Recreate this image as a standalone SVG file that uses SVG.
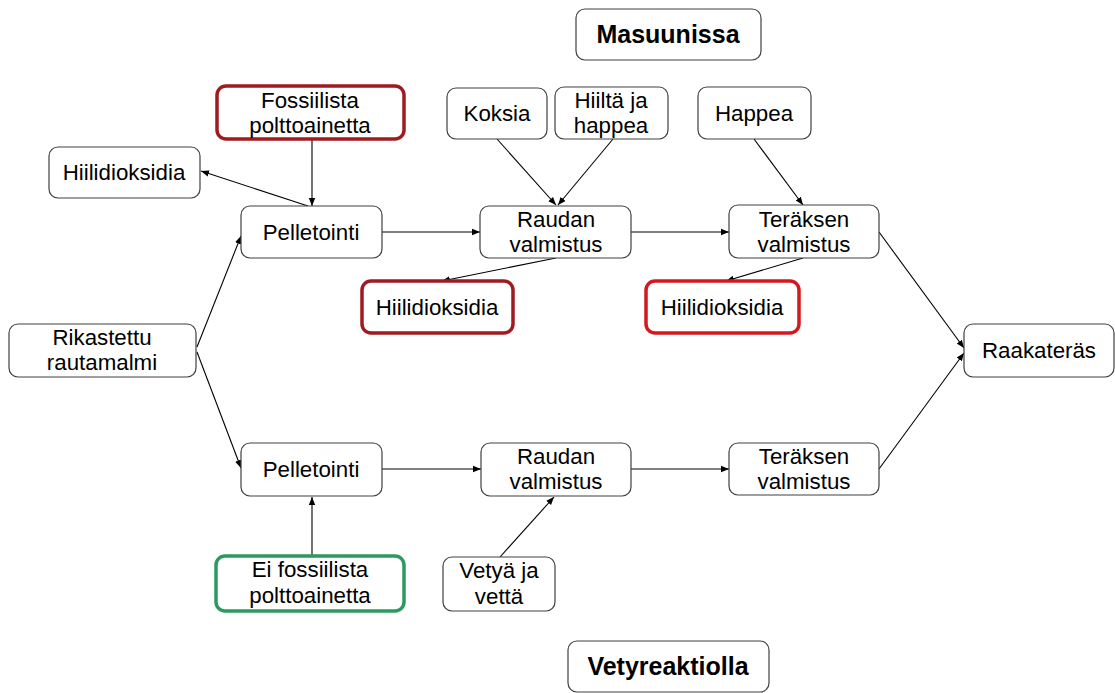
<svg xmlns="http://www.w3.org/2000/svg" width="1115" height="693" viewBox="0 0 1115 693">
<defs>
<marker id="ah" viewBox="0 0 10 10" refX="10" refY="5" markerWidth="8" markerHeight="8" markerUnits="userSpaceOnUse" orient="auto">
<path d="M0,1 L10,5 L0,9 Z" fill="#000"/>
</marker>
<style>
.b{fill:#fff;stroke:#404040;stroke-width:1.2}
.dr{fill:#fff;stroke:#a01b1f;stroke-width:3.5}
.br{fill:#fff;stroke:#d3181f;stroke-width:3.5}
.gr{fill:#fff;stroke:#2a9a60;stroke-width:3.5}
text{font-family:"Liberation Sans",Arial,sans-serif;font-size:22.3px;fill:#000;text-anchor:middle}
.t{font-weight:bold;font-size:25px}
.c line{stroke:#000;stroke-width:1.1;marker-end:url(#ah)}
</style>
</defs>
<rect width="1115" height="693" fill="#fff"/>
<g class="c">
<line x1="312" y1="139" x2="312" y2="206"/>
<line x1="308" y1="206" x2="201" y2="171"/>
<line x1="197" y1="347" x2="241" y2="236"/>
<line x1="197" y1="352" x2="241" y2="468"/>
<line x1="382" y1="232" x2="480" y2="232"/>
<line x1="631" y1="232" x2="729" y2="232"/>
<line x1="497" y1="139" x2="556" y2="205"/>
<line x1="613" y1="139" x2="558" y2="205"/>
<line x1="754" y1="139" x2="803" y2="205"/>
<line x1="556" y1="258" x2="442" y2="281"/>
<line x1="803" y1="258" x2="726" y2="281"/>
<line x1="879" y1="232" x2="964" y2="348"/>
<line x1="879" y1="469" x2="964" y2="353"/>
<line x1="382" y1="469" x2="481" y2="469"/>
<line x1="631" y1="469" x2="729" y2="469"/>
<line x1="312" y1="556" x2="312" y2="497"/>
<line x1="500" y1="557" x2="554" y2="497"/>
</g>
<g id="masuunissa"><rect class="b" x="576" y="9" width="185" height="51" rx="9"/><text class="t" x="668" y="43">Masuunissa</text></g>
<g id="vetyreaktiolla"><rect class="b" x="568" y="641" width="201" height="51" rx="9"/><text class="t" x="668" y="675">Vetyreaktiolla</text></g>
<g id="fossiilista"><rect class="dr" x="217" y="86" width="187" height="53" rx="9"/><text x="310" y="108">Fossiilista</text><text x="310" y="133">polttoainetta</text></g>
<g id="hiilidioksidia1"><rect class="b" x="49" y="147" width="151" height="51" rx="9"/><text x="124" y="180">Hiilidioksidia</text></g>
<g id="pelletointi1"><rect class="b" x="241" y="206" width="141" height="52" rx="9"/><text x="311" y="240">Pelletointi</text></g>
<g id="rikastettu"><rect class="b" x="9" y="324" width="187" height="53" rx="9"/><text x="102" y="345">Rikastettu</text><text x="102" y="370">rautamalmi</text></g>
<g id="koksia"><rect class="b" x="447" y="88" width="100" height="51" rx="9"/><text x="497" y="121">Koksia</text></g>
<g id="hiilta"><rect class="b" x="555" y="87" width="113" height="52" rx="9"/><text x="611" y="108">Hiiltä ja</text><text x="611" y="133">happea</text></g>
<g id="happea"><rect class="b" x="698" y="87" width="113" height="52" rx="9"/><text x="754" y="121">Happea</text></g>
<g id="raudan1"><rect class="b" x="480" y="206" width="151" height="52" rx="9"/><text x="556" y="227">Raudan</text><text x="556" y="252">valmistus</text></g>
<g id="teraksen1"><rect class="b" x="729" y="205" width="150" height="53" rx="9"/><text x="804" y="227">Teräksen</text><text x="804" y="252">valmistus</text></g>
<g id="hiilidioksidia2"><rect class="dr" x="362" y="281" width="151" height="52" rx="9"/><text x="437" y="315">Hiilidioksidia</text></g>
<g id="hiilidioksidia3"><rect class="br" x="646" y="281" width="153" height="52" rx="9"/><text x="722" y="315">Hiilidioksidia</text></g>
<g id="raakateras"><rect class="b" x="964" y="324" width="150" height="53" rx="9"/><text x="1039" y="358">Raakateräs</text></g>
<g id="pelletointi2"><rect class="b" x="241" y="443" width="141" height="53" rx="9"/><text x="311" y="477">Pelletointi</text></g>
<g id="raudan2"><rect class="b" x="481" y="443" width="150" height="53" rx="9"/><text x="556" y="464">Raudan</text><text x="556" y="489">valmistus</text></g>
<g id="teraksen2"><rect class="b" x="729" y="443" width="150" height="52" rx="9"/><text x="804" y="464">Teräksen</text><text x="804" y="489">valmistus</text></g>
<g id="eifossiilista"><rect class="gr" x="216" y="556" width="188" height="55" rx="9"/><text x="310" y="577">Ei fossiilista</text><text x="310" y="603">polttoainetta</text></g>
<g id="vetya"><rect class="b" x="443" y="557" width="112" height="54" rx="9"/><text x="499" y="578">Vetyä ja</text><text x="499" y="604">vettä</text></g>
</svg>
